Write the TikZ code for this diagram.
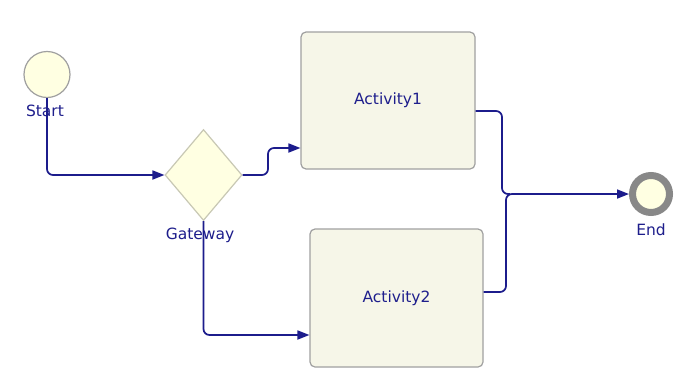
\documentclass[tikz,border=0pt]{standalone}
\usepackage{fontspec}
\setmainfont{DejaVu Sans}
\usetikzlibrary{shapes.geometric,arrows.meta}
\definecolor{flowblue}{RGB}{28,28,140}
\definecolor{labelblue}{RGB}{30,30,140}
\definecolor{paleyellow}{RGB}{255,255,226}
\definecolor{taskfill}{RGB}{246,246,232}
\definecolor{edgegray}{RGB}{160,160,160}
\definecolor{diamondedge}{RGB}{200,200,180}
\definecolor{ringgray}{RGB}{136,136,136}
\begin{document}
\begin{tikzpicture}[x=1pt,y=-1pt,
  every node/.style={font=\fontsize{15.5}{18}\selectfont, text=labelblue},
  startev/.style={circle, draw=edgegray, line width=1.2pt, fill=paleyellow, minimum size=46pt, inner sep=0pt},
  endev/.style={circle, draw=ringgray, line width=7pt, fill=paleyellow, minimum size=37pt, inner sep=0pt},
  gateway/.style={diamond, draw=diamondedge, line width=1.2pt, fill=paleyellow, aspect=0.846, minimum width=77pt, minimum height=91pt, inner sep=0pt},
  task/.style={rectangle, rounded corners=5pt, draw=edgegray, line width=1.2pt, fill=taskfill, inner sep=0pt},
  caption/.style={inner sep=0pt},
  flow/.style={draw=flowblue, line width=1.7pt, rounded corners=6pt, -{Triangle[length=12pt,width=9pt]}},
  link/.style={draw=flowblue, line width=1.7pt, rounded corners=6pt}
]
\useasboundingbox (0,0) rectangle (679,372);
\fill[white] (0,0) rectangle (679,372);

% events, gateway and tasks
\node[startev] (start) at (47,74.5) {};
\node[caption] (startlbl) at (45,111) {Start};

\node[gateway] (gw) at (203.5,175) {};
\node[caption] (gwlbl) at (200,235) {Gateway};

\node[task, minimum width=174pt, minimum height=137pt] (a1) at (388,100.5) {Activity1};
\node[task, minimum width=173pt, minimum height=138pt] (a2) at (396.5,298) {Activity2};

\node[endev] (end) at (651,194) {};
\node[caption] (endlbl) at (651,230) {End};

% sequence flows
\draw[flow] (start.south) |- (gw.west);
\draw[flow] (gw.east) -- (268,175) |- (a1.west |- 0,148);
\draw[flow] (gw.south) |- (a2.west |- 0,335);

\coordinate (j1) at (502,194);
\coordinate (j2) at (506,194);
\draw[link] (a1.east |- 0,111) -| (j1) -- ([xshift=8pt]j1);
\draw[link] (a2.east |- 0,292) -| (j2) -- ([xshift=6pt]j2);
\draw[flow] ([xshift=6pt]j2) -- (end.west);
\end{tikzpicture}
\end{document}
